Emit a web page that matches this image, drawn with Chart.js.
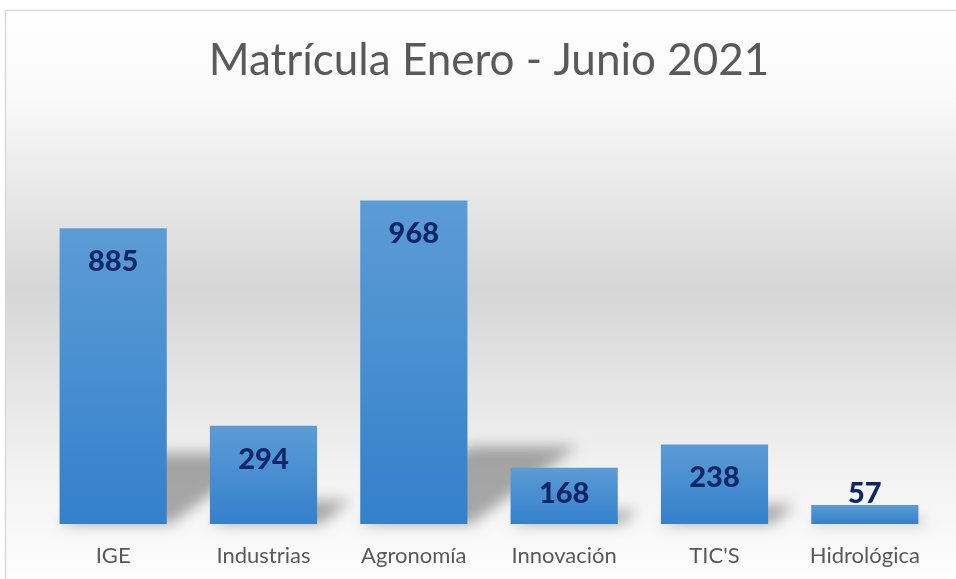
<!DOCTYPE html>
<html>
<head>
<meta charset="utf-8">
<script src="https://cdn.jsdelivr.net/npm/chart.js@4.4.0/dist/chart.umd.min.js"></script>
<style>
  html, body { margin: 0; padding: 0; background: #fff; }
  #wrap { width: 956px; height: 579px; }
</style>
</head>
<body>
<div id="wrap"><canvas id="myChart" width="956" height="579"></canvas></div>
<script>
var titulo = "Matrícula Enero - Junio 2021";
var carreras = ["IGE", "Industrias", "Agronomía", "Innovación", "TIC'S", "Hidrológica"];
var matricula = [885, 294, 968, 168, 238, 57];

// fondo con degradado gris y borde del grafico
var fondoPlugin = {
  id: 'fondo',
  beforeDraw: function(chart) {
    var ctx = chart.ctx;
    var w = chart.width, h = chart.height;
    ctx.save();
    ctx.fillStyle = '#ffffff';
    ctx.fillRect(0, 0, w, h);
    var g = ctx.createLinearGradient(0, 10, 0, h);
    g.addColorStop(0, '#ffffff');
    g.addColorStop(0.16, '#f9f9f9');
    g.addColorStop(0.49, '#d6d6d6');
    g.addColorStop(0.81, '#f2f2f2');
    g.addColorStop(1, '#fdfdfd');
    ctx.fillStyle = g;
    ctx.fillRect(5, 10, w - 5, h - 10);
    ctx.strokeStyle = '#d9d9d9';
    ctx.lineWidth = 1.5;
    ctx.beginPath();
    ctx.moveTo(5.5, h);
    ctx.lineTo(5.5, 10.5);
    ctx.lineTo(w, 10.5);
    ctx.stroke();
    ctx.restore();
  }
};

// sombra en perspectiva detras de cada barra
var sombraPlugin = {
  id: 'sombra',
  beforeDatasetsDraw: function(chart) {
    var ctx = chart.ctx;
    var meta = chart.getDatasetMeta(0);
    ctx.save();
    ctx.filter = 'blur(7px)';
    ctx.fillStyle = 'rgba(85,85,85,0.5)';
    meta.data.forEach(function(bar) {
      var alto = bar.base - bar.y;
      var x0 = bar.x - bar.width / 2;
      var x1 = bar.x + bar.width / 2;
      var sh = alto * 0.24;
      var sk = alto * 0.34;
      ctx.beginPath();
      ctx.moveTo(x0, bar.base);
      ctx.lineTo(x1 + 4, bar.base);
      ctx.lineTo(x1 + sk, bar.base - sh);
      ctx.lineTo(x0 + sk, bar.base - sh);
      ctx.closePath();
      ctx.fill();
    });
    ctx.restore();
  }
};

// etiquetas de valor dentro de la barra
var etiquetasPlugin = {
  id: 'etiquetas',
  afterDatasetsDraw: function(chart) {
    var ctx = chart.ctx;
    var meta = chart.getDatasetMeta(0);
    ctx.save();
    ctx.font = '900 29px Lato';
    ctx.fillStyle = '#0c2768';
    ctx.textAlign = 'center';
    ctx.textBaseline = 'alphabetic';
    meta.data.forEach(function(bar, i) {
      var centro = Math.min(bar.y + 33, bar.base - 31);
      ctx.fillText(matricula[i], bar.x, centro + 10);
    });
    ctx.restore();
  }
};

function colorBarra(c) {
  var chart = c.chart;
  if (!chart.chartArea || c.type !== 'data') return '#5b9bd5';
  var y = chart.scales.y;
  var top = y.getPixelForValue(c.raw);
  var base = y.getPixelForValue(0);
  var g = chart.ctx.createLinearGradient(0, top, 0, base);
  g.addColorStop(0, '#5c9cd6');
  g.addColorStop(1, '#3480cb');
  return g;
}

new Chart("myChart", {
  type: "bar",
  data: {
    labels: carreras,
    datasets: [{
      data: matricula,
      backgroundColor: colorBarra,
      borderWidth: 0,
      categoryPercentage: 1,
      barPercentage: 0.713
    }]
  },
  options: {
    responsive: false,
    animation: false,
    layout: { padding: { left: 38, right: 16, top: 0, bottom: 0 } },
    plugins: {
      legend: { display: false },
      tooltip: { enabled: false },
      title: {
        display: true,
        text: titulo,
        color: '#595959',
        font: { family: 'Lato', size: 44, weight: 'normal' },
        padding: { top: 34, bottom: 103 }
      }
    },
    scales: {
      x: {
        grid: { display: false, drawTicks: false, tickLength: 0 },
        border: { display: false },
        ticks: {
          color: '#595959',
          font: { family: 'Lato', size: 22 },
          padding: 19
        },
        afterFit: function(s) { s.height = 55; }
      },
      y: {
        display: false,
        min: 0,
        max: 1000
      }
    }
  },
  plugins: [fondoPlugin, sombraPlugin, etiquetasPlugin]
});
</script>
</body>
</html>
